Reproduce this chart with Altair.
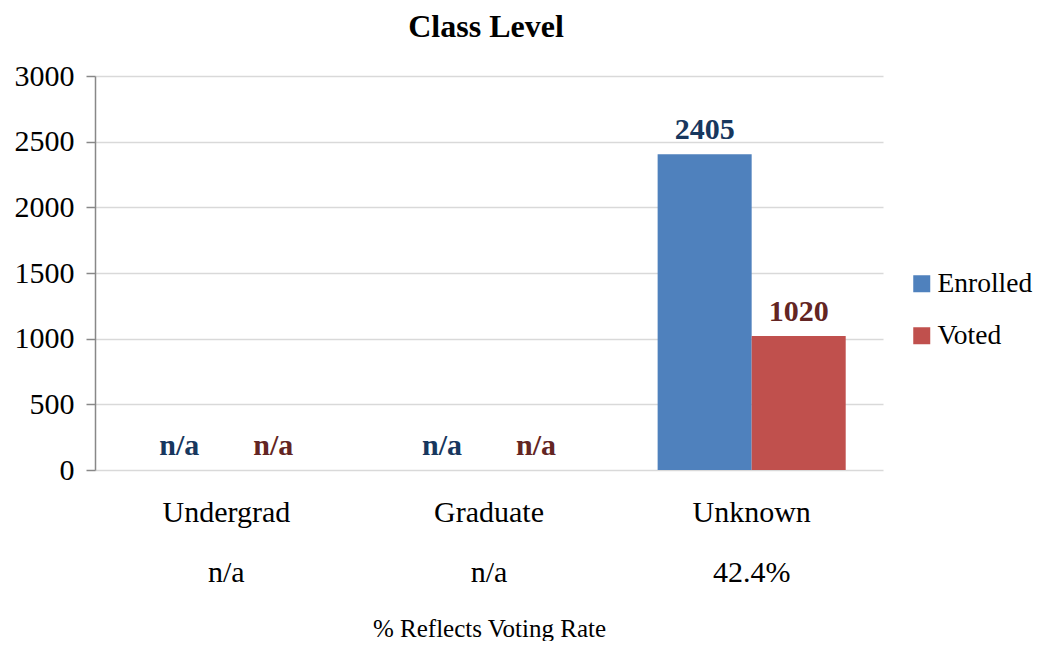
import altair as alt
import pandas as pd

categories = ["Undergrad", "Graduate", "Unknown"]
series = ["Enrolled", "Voted"]
enrolled = [0, 0, 2405]
voted = [0, 0, 1020]
enrolled_labels = ["n/a", "n/a", "2405"]
voted_labels = ["n/a", "n/a", "1020"]
rates = ["n/a", "n/a", "42.4%"]
y_ticks = [0, 500, 1000, 1500, 2000, 2500, 3000]

rows = []
for i, c in enumerate(categories):
    rows.append({"category": c, "series": "Enrolled", "value": enrolled[i], "label": enrolled_labels[i], "rate": rates[i]})
    rows.append({"category": c, "series": "Voted", "value": voted[i], "label": voted_labels[i], "rate": rates[i]})
df = pd.DataFrame(rows)
rate_df = pd.DataFrame({"category": categories, "rate": rates})

FONT = "Liberation Serif"
W, H = 788, 394

x_enc = alt.X(
    "category:N", sort=categories,
    scale=alt.Scale(paddingInner=0.284, paddingOuter=0.142),
    axis=alt.Axis(
        title="% Reflects Voting Rate", titleFont=FONT, titleFontSize=25,
        titleFontWeight="normal", titleColor="black", titlePadding=89,
        labelFont=FONT, labelFontSize=30, labelColor="black", labelPadding=27,
        labelAngle=0, domain=False, ticks=False,
    ),
)

bars = alt.Chart(df).mark_bar().encode(
    x=x_enc,
    xOffset=alt.XOffset("series:N", sort=series),
    y=alt.Y(
        "value:Q",
        scale=alt.Scale(domain=[0, 3000], nice=False),
        axis=alt.Axis(
            values=y_ticks, format="d", title=None, labelFont=FONT, labelFontSize=30,
            labelColor="black", labelPadding=12, tickSize=9, tickColor="#888888",
            domainColor="#888888", domainWidth=1.5, tickWidth=1.5,
            gridColor="#d9d9d9", gridWidth=1.5,
        ),
    ),
    color=alt.Color(
        "series:N", sort=series,
        scale=alt.Scale(domain=series, range=["#4F81BD", "#C0504D"]),
        legend=alt.Legend(
            title=None, orient="none", legendX=813, legendY=194,
            symbolType="square", symbolSize=289, symbolStrokeWidth=0,
            labelFont=FONT, labelFontSize=27.5, labelColor="black",
            rowPadding=23, labelOffset=2,
        ),
    ),
)

labels = alt.Chart(df).mark_text(
    font=FONT, fontSize=30, fontWeight="bold", baseline="bottom", dy=-9
).encode(
    x=alt.X("category:N", sort=categories),
    xOffset=alt.XOffset("series:N", sort=series),
    y="value:Q",
    text="label:N",
    color=alt.condition(alt.datum.series == "Enrolled", alt.value("#17375E"), alt.value("#632523")),
)

rate_text = alt.Chart(rate_df).mark_text(
    font=FONT, fontSize=30, baseline="middle", color="black"
).encode(
    x=alt.X("category:N", sort=categories),
    y=alt.value(H + 103),
    text="rate:N",
)

chart = alt.layer(bars, labels, rate_text).properties(
    width=W, height=H,
    title=alt.TitleParams("Class Level", font=FONT, fontSize=32, fontWeight="bold",
                          color="black", anchor="middle", offset=17, dx=-3),
    autosize=alt.AutoSizeParams(type="none"),
    padding={"left": 87, "top": 68, "right": 154, "bottom": 171},
).configure_view(stroke=None).configure_axisY(gridDash=[])

chart.save("out.html", embed_options={"renderer": "svg", "actions": False})
